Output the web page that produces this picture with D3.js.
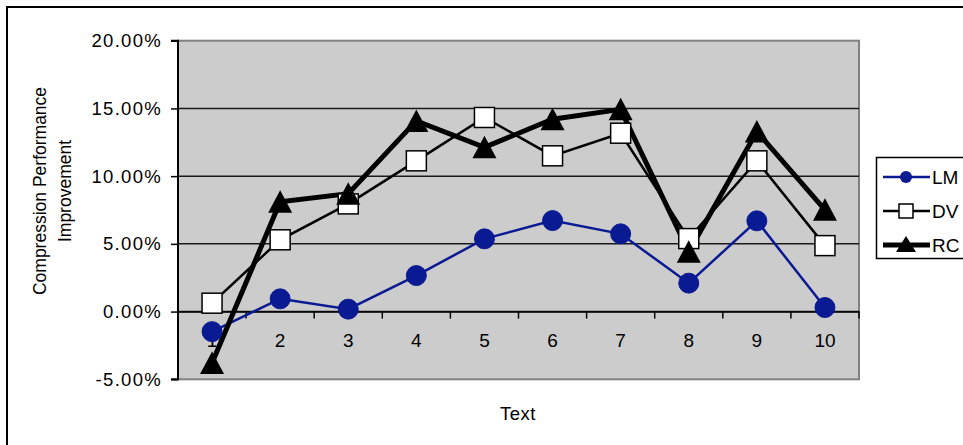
<!DOCTYPE html>
<html>
<head>
<meta charset="utf-8">
<script src="https://cdn.jsdelivr.net/npm/d3@7"></script>
<style>
  html, body { margin: 0; padding: 0; background: #fff; }
  svg { display: block; }
  text { font-family: "Liberation Sans", Arial, sans-serif; fill: #000; }
</style>
</head>
<body>
<svg id="chart" width="963" height="445"></svg>
<script>
// Category labels (texts 1..10)
const categories = ["1", "2", "3", "4", "5", "6", "7", "8", "9", "10"];
// Compression performance improvement per method, in percent
const lmValues = [-1.48, 0.94, 0.18, 2.66, 5.37, 6.72, 5.74, 2.10, 6.70, 0.30];
const dvValues = [0.62, 5.30, 7.95, 11.13, 14.33, 11.50, 13.17, 5.39, 11.13, 4.87];
const rcValues = [-3.79, 8.10, 8.70, 14.08, 12.13, 14.20, 14.93, 4.41, 13.29, 7.51];
const yTicks = [-5, 0, 5, 10, 15, 20];
const seriesNames = ["LM", "DV", "RC"];

const series = [
  { name: seriesNames[0], values: lmValues, color: "#0a1a92", width: 2.5, marker: "circle" },
  { name: seriesNames[1], values: dvValues, color: "#000", width: 2.5, marker: "square" },
  { name: seriesNames[2], values: rcValues, color: "#000", width: 5, marker: "triangle" }
];

const svg = d3.select("#chart");
const plot = { left: 178, right: 859, top: 40.7, bottom: 379.3 };

const x = d3.scaleBand().domain(categories).range([plot.left, plot.right]);
const y = d3.scaleLinear().domain([-5, 20]).range([plot.bottom, plot.top]);

// Chart frame
svg.append("rect")
  .attr("x", 7).attr("y", 7).attr("width", 1000).attr("height", 1000)
  .attr("fill", "#fff").attr("stroke", "#000").attr("stroke-width", 2);

// Plot area
svg.append("rect")
  .attr("x", plot.left).attr("y", plot.top)
  .attr("width", plot.right - plot.left).attr("height", plot.bottom - plot.top)
  .attr("fill", "#cccccc").attr("stroke", "#808080").attr("stroke-width", 2);

// Horizontal gridlines
svg.append("g").selectAll("line")
  .data(yTicks.filter(t => t > -5 && t < 20))
  .join("line")
  .attr("x1", plot.left).attr("x2", plot.right)
  .attr("y1", d => y(d)).attr("y2", d => y(d))
  .attr("stroke", "#1a1a1a").attr("stroke-width", 1.5);

// Value axis (plain hyphen for negatives)
const pct = d => d3.format(".2f")(d).replace("\u2212", "-") + "%";
const yAxis = svg.append("g")
  .attr("transform", `translate(${plot.left},0)`)
  .call(d3.axisLeft(y).tickValues(yTicks).tickSize(7).tickPadding(9).tickFormat(pct));
yAxis.select(".domain").attr("stroke", "#000").attr("stroke-width", 2).attr("d", `M-7,${y(20)}H0V${y(-5)}H-7`);
yAxis.selectAll(".tick line").attr("stroke", "#000").attr("stroke-width", 1.5);
yAxis.selectAll(".tick text")
  .style("font-family", "'Liberation Sans', Arial, sans-serif")
  .style("font-size", "18.5px")
  .style("letter-spacing", "1.3px")
  .attr("fill", "#000");

// Category axis crossing at zero
const xAxis = svg.append("g")
  .attr("transform", `translate(0,${y(0)})`)
  .call(d3.axisBottom(x).tickSize(0).tickPadding(22));
xAxis.select(".domain").attr("stroke", "#000").attr("stroke-width", 1.5);
xAxis.selectAll(".tick text")
  .style("font-family", "'Liberation Sans', Arial, sans-serif")
  .style("font-size", "19px")
  .attr("fill", "#000");
// Tick marks on category boundaries
svg.append("g").selectAll("line")
  .data(categories)
  .join("line")
  .attr("x1", d => x(d) + x.bandwidth())
  .attr("x2", d => x(d) + x.bandwidth())
  .attr("y1", y(0)).attr("y2", y(0) + 7)
  .attr("stroke", "#000").attr("stroke-width", 1.5);

// Axis titles
const yTitle = svg.append("text")
  .attr("transform", "translate(46,191) rotate(-90)")
  .attr("text-anchor", "middle")
  .style("font-size", "17.5px");
yTitle.append("tspan").attr("x", 0).attr("dy", 0).text("Compression Performance");
yTitle.append("tspan").attr("x", 0).attr("dy", 25).text("Improvement");

svg.append("text")
  .attr("x", 518).attr("y", 420)
  .attr("text-anchor", "middle")
  .style("font-size", "18.5px")
  .style("letter-spacing", "0.5px")
  .text("Text");

// Marker shapes
const tri = "M0,-11.5L12,11L-12,11Z";
function drawMarker(sel, s) {
  if (s.marker === "circle") {
    sel.append("circle").attr("r", 10).attr("fill", s.color).attr("stroke", s.color).attr("stroke-width", 1);
  } else if (s.marker === "square") {
    sel.append("rect").attr("x", -10).attr("y", -10).attr("width", 20).attr("height", 20)
      .attr("fill", "#fff").attr("stroke", "#000").attr("stroke-width", 1.5);
  } else {
    sel.append("path").attr("d", tri).attr("fill", "#000");
  }
}

const cx = c => x(c) + x.bandwidth() / 2;
const line = d3.line().x((d, i) => cx(categories[i])).y(d => y(d));

// Lines first, then markers in series order
svg.append("g").selectAll("path")
  .data(series)
  .join("path")
  .attr("d", s => line(s.values))
  .attr("fill", "none")
  .attr("stroke", s => s.color)
  .attr("stroke-width", s => s.width)
  .attr("stroke-linejoin", "miter");

series.forEach(s => {
  svg.append("g").selectAll("g")
    .data(s.values)
    .join("g")
    .attr("transform", (d, i) => `translate(${cx(categories[i])},${y(d)})`)
    .each(function () { drawMarker(d3.select(this), s); });
});

// Legend
const legend = svg.append("g");
legend.append("rect")
  .attr("x", 876.5).attr("y", 157.5).attr("width", 120).attr("height", 101)
  .attr("fill", "#fff").attr("stroke", "#000").attr("stroke-width", 1.5);
const legendY = d3.scalePoint().domain(seriesNames).range([177, 245]);
series.forEach(s => {
  const g = legend.append("g").attr("transform", `translate(0,${legendY(s.name)})`);
  g.append("line").attr("x1", 883).attr("x2", 930).attr("y1", 0).attr("y2", 0)
    .attr("stroke", s.color).attr("stroke-width", s.width);
  const m = g.append("g").attr("transform", "translate(906,0)");
  if (s.marker === "circle") {
    m.append("circle").attr("r", 6).attr("fill", s.color);
  } else if (s.marker === "square") {
    m.append("rect").attr("x", -7).attr("y", -7).attr("width", 14).attr("height", 14)
      .attr("fill", "#fff").attr("stroke", "#000").attr("stroke-width", 1.5);
  } else {
    m.append("path").attr("d", "M0,-9L10,7L-10,7Z").attr("fill", "#000");
  }
  g.append("text").attr("x", 932).attr("y", 0).attr("dy", "0.36em")
    .style("font-size", "19px").text(s.name);
});
</script>
</body>
</html>
